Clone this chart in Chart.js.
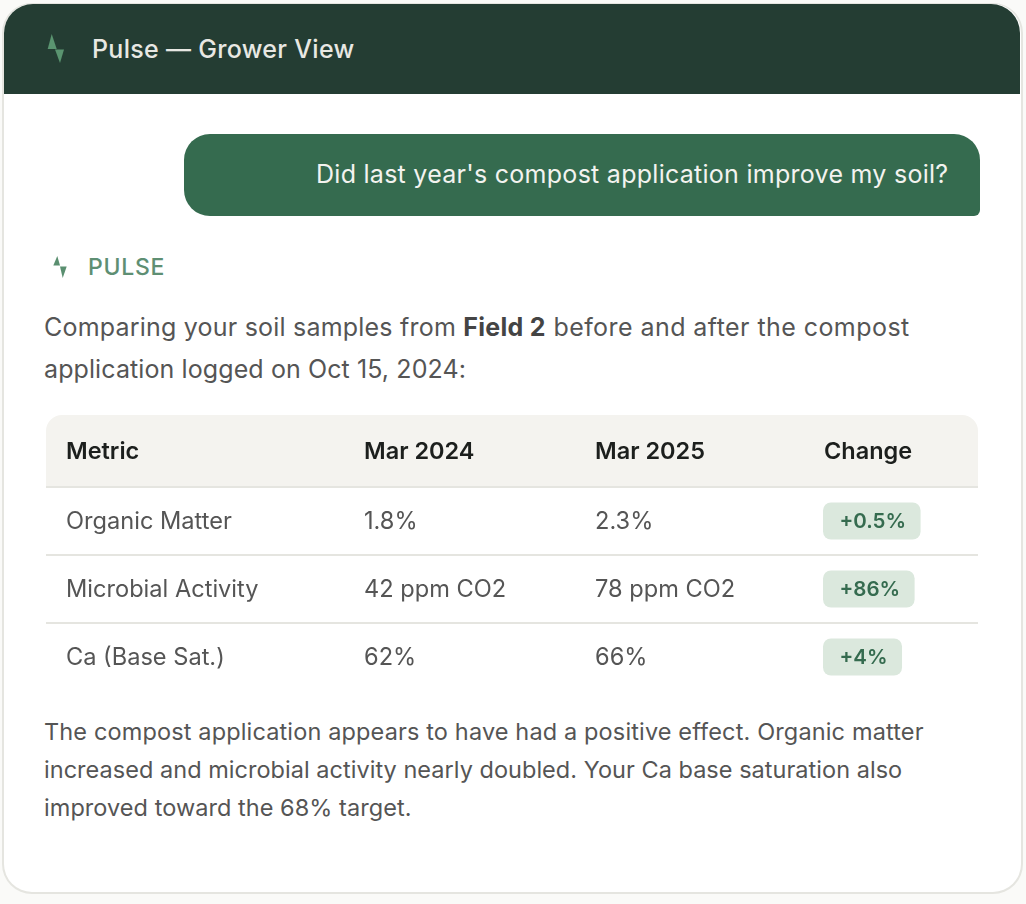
<!DOCTYPE html>
<html>
<head>
<meta charset="utf-8">
<title>Pulse - Grower View</title>
<script src="https://cdn.jsdelivr.net/npm/chart.js@4"></script>
<style>
  html, body { margin: 0; padding: 0; width: 1026px; height: 904px; overflow: hidden; background: #fafaf8; font-family: Inter, sans-serif; }
  .card { position: absolute; left: 2px; top: 3px; width: 1017px; height: 888px; background: #fff; border: 2px solid #e5e5e0; border-top-width: 1px; border-radius: 30px; overflow: hidden; }
  .top { position: absolute; left: 4px; top: 4px; width: 1016px; height: 90px; background: #243d33; border-radius: 29px 29px 0 0; }
  .txt { position: absolute; white-space: nowrap; margin: 0; }
  .title { left: 92px; top: 31px; font-size: 25px; line-height: 36px; font-weight: 500; letter-spacing: .3px; color: #e8e8e3; }
  .bubble { position: absolute; left: 184px; top: 134px; width: 796px; height: 82px; background: #356b4f; border-radius: 26px 26px 6px 26px; }
  .ask { left: 316px; top: 156px; font-size: 25px; line-height: 36px; letter-spacing: .27px; color: #f3f3ef; }
  .who { left: 88px; top: 250px; font-size: 23px; line-height: 34px; font-weight: 500; letter-spacing: .7px; color: #5e8f73; }
  .para { font-size: 25px; letter-spacing: .21px; color: #555; }
  .para b { font-weight: 700; color: #444; letter-spacing: .3px; }
  .para span { letter-spacing: .44px; }
  .note { font-size: 23.5px; color: #555; }
  svg { position: absolute; left: 0; top: 0; }
  #tableChart { position: absolute; left: 46px; top: 415px; }
</style>
</head>
<body>
<div class="card"></div>
<div class="top"></div>
<div class="bubble"></div>
<svg width="1026" height="300">
  <polygon points="51.7,34 47.7,49 56.7,49" fill="#5a9470"/>
  <polygon points="55,49.5 64,49.5 60,63" fill="#5a9470"/>
  <polygon points="57.3,256 53.3,265.5 60,265.5" fill="#5a8f70"/>
  <polygon points="60,266.5 66.7,266.5 62.7,278" fill="#5a8f70"/>
</svg>
<p class="txt title">Pulse — Grower View</p>
<p class="txt ask">Did last year's compost application improve my soil?</p>
<p class="txt who">PULSE</p>
<p class="txt para" style="left:44px;top:309px;line-height:36px">Comparing your soil samples from <b>Field 2</b><span> before and after the compost</span></p>
<p class="txt para" style="left:44px;top:351px;line-height:36px;letter-spacing:.1px">application logged on Oct 15, 2024:</p>
<canvas id="tableChart" width="932" height="276"></canvas>
<p class="txt note" style="left:44px;top:714px;line-height:36px;letter-spacing:.14px">The compost application appears to have had a positive effect. Organic matter</p>
<p class="txt note" style="left:44px;top:752px;line-height:36px;letter-spacing:.03px">increased and microbial activity nearly doubled. Your Ca base saturation also</p>
<p class="txt note" style="left:44px;top:790px;line-height:36px;letter-spacing:.05px">improved toward the 68% target.</p>
<script>
const columns = ["Metric", "Mar 2024", "Mar 2025", "Change"];
const metrics = ["Organic Matter", "Microbial Activity", "Ca (Base Sat.)"];
const mar2024 = ["1.8%", "42 ppm CO2", "62%"];
const mar2025 = ["2.3%", "78 ppm CO2", "66%"];
const change = ["+0.5%", "+86%", "+4%"];

// left edge of each column's text, in table pixels
const columnStarts = [20, 318, 549, 778];
const cellFont = "400 23.6px Inter, sans-serif";
const badgeFont = "600 20.5px Inter, sans-serif";

function cellPoints(col) {
  return metrics.map((m) => ({ x: columnStarts[col], y: m }));
}

// the layout reserves room for half a tick label otherwise
function noLabelPadding(axis) {
  axis.paddingLeft = axis.paddingRight = axis.paddingTop = axis.paddingBottom = 0;
}

const tablePlugin = {
  id: "tablePlugin",
  beforeDraw(chart) {
    const ctx = chart.ctx;
    ctx.save();
    ctx.fillStyle = "#f4f3ef";
    ctx.beginPath();
    ctx.roundRect(0, 0, chart.width, chart.chartArea.top, [16, 16, 0, 0]);
    ctx.fill();
    ctx.restore();
  },
  afterDatasetsDraw(chart) {
    const ctx = chart.ctx;
    ctx.save();
    ctx.textBaseline = "middle";
    chart.data.datasets.forEach((ds, i) => {
      chart.getDatasetMeta(i).data.forEach((pt, j) => {
        const text = ds.cellText[j];
        if (ds.badge) {
          ctx.font = badgeFont;
          const w = ctx.measureText(text).width + 31;
          ctx.fillStyle = "#dbe8dd";
          ctx.beginPath();
          ctx.roundRect(pt.x - 1, pt.y - 18.5, w, 37, 8);
          ctx.fill();
          ctx.fillStyle = "#356b4f";
          ctx.fillText(text, pt.x + 15.5, pt.y + 1);
        } else {
          ctx.font = cellFont;
          ctx.fillStyle = "#555";
          ctx.fillText(text, pt.x, pt.y + 1);
        }
      });
    });
    ctx.restore();
  },
};

new Chart(document.getElementById("tableChart"), {
  type: "scatter",
  data: {
    datasets: [
      { label: columns[1], data: cellPoints(1), cellText: mar2024, pointRadius: 0 },
      { label: columns[2], data: cellPoints(2), cellText: mar2025, pointRadius: 0 },
      { label: columns[3], data: cellPoints(3), cellText: change, badge: true, pointRadius: 0 },
    ],
  },
  options: {
    responsive: false,
    animation: false,
    layout: { padding: 0, autoPadding: false },
    plugins: { legend: { display: false }, tooltip: { enabled: false } },
    scales: {
      x: {
        type: "linear",
        position: "top",
        min: 0,
        max: 932,
        afterBuildTicks(axis) {
          axis.ticks = columnStarts.map((v) => ({ value: v }));
        },
        afterFit(axis) {
          axis.height = 72;
          noLabelPadding(axis);
        },
        grid: { display: false, drawTicks: false },
        border: { display: false },
        ticks: {
          autoSkip: false,
          maxRotation: 0,
          align: "start",
          padding: 21,
          color: "#1c1f1d",
          font: { family: "Inter, sans-serif", size: 23.5, weight: "600" },
          callback: (v) => columns[columnStarts.indexOf(v)],
        },
      },
      y: {
        type: "category",
        labels: metrics,
        offset: true,
        afterFit(axis) {
          axis.width = 0;
          noLabelPadding(axis);
        },
        grid: {
          offset: true,
          drawTicks: false,
          lineWidth: 2,
          color: (c) => (c.index < metrics.length ? "#e5e5e0" : "transparent"),
        },
        border: { display: false },
        ticks: {
          mirror: true,
          padding: 20,
          labelOffset: 1,
          color: "#555",
          font: { family: "Inter, sans-serif", size: 23.6, weight: "400" },
        },
      },
    },
  },
  plugins: [tablePlugin],
});
</script>
</body>
</html>
